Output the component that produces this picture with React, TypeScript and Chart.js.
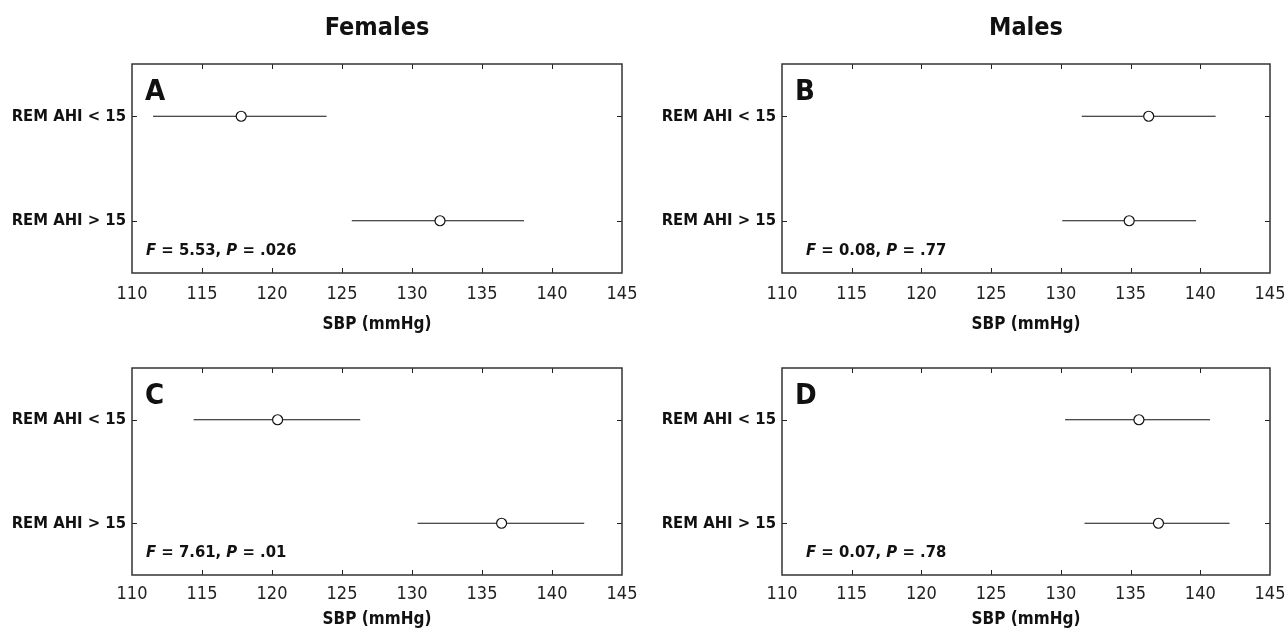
import React, { useEffect, useRef } from 'react';
import { Chart, registerables } from 'chart.js';

Chart.register(...registerables);

// ---------- data ----------
const categories = ['REM AHI < 15', 'REM AHI > 15'];
const columnTitles = ['Females', 'Males'];
const axisTitle = 'SBP (mmHg)';
const xMin = 110;
const xMax = 145;
const xStep = 5;

const panelLetters = ['A', 'B', 'C', 'D'];

const meanA = [117.8, 132.0];
const lowA = [111.5, 125.7];
const highA = [123.9, 138.0];

const meanB = [136.3, 134.9];
const lowB = [131.5, 130.1];
const highB = [141.1, 139.7];

const meanC = [120.4, 136.4];
const lowC = [114.4, 130.4];
const highC = [126.3, 142.3];

const meanD = [135.6, 137.0];
const lowD = [130.3, 131.7];
const highD = [140.7, 142.1];

const statF = ['5.53', '0.08', '7.61', '0.07'];
const statP = ['.026', '.77', '.01', '.78'];

// ---------- styling / layout ----------
const NARROW = "'Liberation Sans Narrow', 'DejaVu Sans Condensed', 'Arial Narrow', sans-serif";

type PanelCfg = {
  idx: number;
  mean: number[];
  low: number[];
  high: number[];
  title?: string;
  left: number;
  top: number;
  width: number;
  height: number;
  yW: number;
  padRight: number;
  padTop: number;
  topH: number;
  xH: number;
  tickPad: number;
  titlePad: number;
  statDx: number;
};

const PR = 40;

const panels: PanelCfg[] = [
  { idx: 0, mean: meanA, low: lowA, high: highA, title: columnTitles[0], left: 0, top: 0, width: 622 + PR, height: 340, yW: 132, padRight: PR, padTop: 0, topH: 64, xH: 67, tickPad: 11, titlePad: 5, statDx: 14 },
  { idx: 1, mean: meanB, low: lowB, high: highB, title: columnTitles[1], left: 643, top: 0, width: 1270 - 643 + PR, height: 340, yW: 139, padRight: PR, padTop: 0, topH: 64, xH: 67, tickPad: 11, titlePad: 5, statDx: 24 },
  { idx: 2, mean: meanC, low: lowC, high: highC, left: 0, top: 340, width: 622 + PR, height: 291, yW: 132, padRight: PR, padTop: 28, topH: 0, xH: 56, tickPad: 9, titlePad: 1, statDx: 14 },
  { idx: 3, mean: meanD, low: lowD, high: highD, left: 643, top: 340, width: 1270 - 643 + PR, height: 291, yW: 139, padRight: PR, padTop: 28, topH: 0, xH: 56, tickPad: 9, titlePad: 1, statDx: 24 },
];

const framePlugin = {
  id: 'frame',
  beforeDatasetsDraw(chart: any) {
    const { ctx, chartArea: a, scales } = chart;
    const xs = scales.x;
    const ys = scales.y;
    const tl = 5;
    ctx.save();
    ctx.strokeStyle = '#222';
    ctx.lineWidth = 1;
    ctx.beginPath();
    xs.ticks.forEach((t: any) => {
      if (t.value <= xMin || t.value >= xMax) return;
      const px = Math.round(xs.getPixelForValue(t.value)) + 0.5;
      ctx.moveTo(px, a.top);
      ctx.lineTo(px, a.top + tl);
      ctx.moveTo(px, a.bottom);
      ctx.lineTo(px, a.bottom - tl);
    });
    categories.forEach((_c, i) => {
      const py = Math.round(ys.getPixelForValue(i)) + 0.5;
      ctx.moveTo(a.left, py);
      ctx.lineTo(a.left + tl, py);
      ctx.moveTo(a.right, py);
      ctx.lineTo(a.right - tl, py);
    });
    ctx.stroke();
    ctx.lineWidth = 1.5;
    ctx.strokeStyle = '#333';
    ctx.strokeRect(a.left, a.top, a.right - a.left, a.bottom - a.top);
    ctx.restore();
  },
  afterDraw(chart: any, _args: any, opts: any) {
    const { ctx, chartArea: a } = chart;
    ctx.save();
    ctx.fillStyle = '#111';
    ctx.textAlign = 'left';
    ctx.textBaseline = 'alphabetic';
    ctx.font = `bold 29px ${NARROW}`;
    ctx.fillText(opts.letter, a.left + 13, a.top + 36);
    const segs: [string, boolean][] = [
      ['F', true],
      [' = ' + opts.f + ', ', false],
      ['P', true],
      [' = ' + opts.p, false],
    ];
    let cx = a.left + opts.statDx;
    const by = a.bottom - 18;
    for (const [t, it] of segs) {
      ctx.font = `${it ? 'italic ' : ''}bold 16.5px ${NARROW}`;
      ctx.fillText(t, cx, by);
      cx += ctx.measureText(t).width;
    }
    ctx.restore();
  },
};

function Panel({ cfg }: { cfg: PanelCfg }) {
  const ref = useRef<HTMLCanvasElement | null>(null);
  useEffect(() => {
    if (!ref.current) return;
    const lineSets = categories.map((c, i) => ({
      data: [
        { x: cfg.low[i], y: c },
        { x: cfg.high[i], y: c },
      ],
      showLine: true,
      pointRadius: 0,
      borderColor: '#111',
      borderWidth: 1.2,
      order: 1,
    }));
    const meanSet = {
      data: categories.map((c, i) => ({ x: cfg.mean[i], y: c })),
      showLine: false,
      pointRadius: 5,
      pointBackgroundColor: '#fff',
      pointBorderColor: '#111',
      pointBorderWidth: 1.2,
      order: 0,
    };
    const scales: any = {
      x: {
        type: 'linear',
        position: 'bottom',
        min: xMin,
        max: xMax,
        ticks: { stepSize: xStep, padding: cfg.tickPad, color: '#222', font: { family: NARROW, size: 18 } },
        grid: { display: false, drawTicks: false },
        border: { display: false },
        title: {
          display: true,
          text: axisTitle,
          color: '#111',
          font: { family: NARROW, size: 17, weight: 'bold' },
          padding: { top: 0, bottom: cfg.titlePad },
        },
        afterFit: (s: any) => {
          s.height = cfg.xH;
        },
      },
      y: {
        type: 'category',
        labels: categories,
        offset: true,
        ticks: { padding: 6, color: '#111', font: { family: NARROW, size: 16.5, weight: 'bold' } },
        grid: { display: false, drawTicks: false },
        border: { display: false },
        afterFit: (s: any) => {
          s.width = cfg.yW;
        },
      },
    };
    if (cfg.title) {
      scales.x2 = {
        type: 'linear',
        axis: 'x',
        position: 'top',
        min: xMin,
        max: xMax,
        ticks: { display: false },
        grid: { display: false, drawTicks: false },
        border: { display: false },
        title: {
          display: true,
          text: cfg.title,
          color: '#111',
          font: { family: NARROW, size: 25, weight: 'bold' },
          padding: { top: 13, bottom: 0 },
        },
        afterFit: (s: any) => {
          s.height = cfg.topH;
        },
      };
    }
    const chart = new Chart(ref.current, {
      type: 'scatter',
      data: { datasets: [meanSet as any, ...lineSets] },
      options: {
        animation: false,
        responsive: false,
        events: [],
        layout: { padding: { left: 0, right: cfg.padRight, top: cfg.padTop, bottom: 0 } },
        font: { family: NARROW },
        scales,
        plugins: {
          legend: { display: false },
          tooltip: { enabled: false },
          frame: { letter: panelLetters[cfg.idx], f: statF[cfg.idx], p: statP[cfg.idx], statDx: cfg.statDx },
        } as any,
      },
      plugins: [framePlugin],
    });
    return () => chart.destroy();
  }, [cfg]);
  return (
    <canvas
      ref={ref}
      width={cfg.width}
      height={cfg.height}
      style={{ position: 'absolute', left: cfg.left, top: cfg.top, width: cfg.width, height: cfg.height, display: 'block' }}
    />
  );
}

export default function App() {
  return (
    <div style={{ position: 'absolute', left: 0, top: 0, width: 1286, height: 631, background: '#fff', overflow: 'hidden' }}>
      {panels.map((p) => (
        <Panel key={p.idx} cfg={p} />
      ))}
    </div>
  );
}
